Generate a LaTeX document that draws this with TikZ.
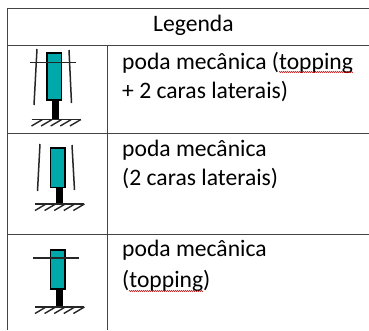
\documentclass[tikz,border=0pt]{standalone}
\usepackage{fontspec}
\setmainfont{Carlito}
\usetikzlibrary{decorations.pathmorphing}
\definecolor{tealfill}{HTML}{00A9A9}
\definecolor{gridline}{HTML}{444444}
\tikzset{
  gridrule/.style={draw=gridline,line width=1pt},
  label/.style={anchor=base west,inner sep=0pt,font=\fontsize{23.6}{28}\selectfont,text=black},
  crown/.style={draw=black,line width=1.5pt,fill=tealfill},
  trunk/.style={fill=black,draw=none},
  cutline/.style={draw=black!85,line width=1.5pt},
  soil/.style={draw=black!85,line width=1.4pt},
  squiggle/.style={draw=red!75!black,line width=0.5pt,decorate,decoration={zigzag,segment length=2pt,amplitude=0.6pt}},
}
\newcommand{\treeicon}[4]{% x (crown left), crown top, crown bottom, ground y
  \fill[trunk] (#1+5.2,#3) rectangle (#1+12,#4);
  \draw[crown] (#1,#2) rectangle (#1+14.5,#3);
  \draw[soil] (#1-15.5,#4) -- (#1+33,#4);
  \foreach \k in {0,1,2,3,4}
    \draw[soil] (#1-4.5+\k*9.6,#4) -- (#1-15.5+\k*9.6,#4+6.5);
}
\begin{document}
\begin{tikzpicture}[x=1pt,y=-1pt]
\useasboundingbox (0,0) rectangle (369,330);
\fill[white] (0,0) rectangle (369,330);
% table grid
\draw[gridrule] (7,8.5) -- (369,8.5);
\draw[gridrule] (7,45) -- (369,45);
\draw[gridrule] (7,133) -- (369,133);
\draw[gridrule] (7,234) -- (369,234);
\draw[gridrule] (7,8.5) -- (7,330);
\draw[gridrule] (107.5,45) -- (107.5,330);
% icon 1
\treeicon{47}{53}{100}{119.5}
\draw[cutline] (30,62.5) -- (76,62.5);
\draw[cutline] (37,49) -- (34,105);
\draw[cutline] (69,50) -- (71.5,103);
% icon 2
\treeicon{50.5}{148}{187.5}{204}
\draw[cutline] (40,144) -- (37.5,191);
\draw[cutline] (72,145) -- (74.5,190);
% icon 3
\treeicon{50.5}{250}{289}{307}
\draw[cutline] (33,258) -- (79,258);
% text
\node[label] (title) at (153,31) {Legenda};
\node[label] (a1) at (122,69) {poda mecânica (topping};
\node[label] (a2) at (122,98) {+ 2 caras laterais)};
\node[label] (b1) at (122,156) {poda mecânica};
\node[label] (b2) at (122,185) {(2 caras laterais)};
\node[label] (c1) at (122,256) {poda mecânica};
\node[label] (c2) at (122,287) {(topping)};
% spell-check marks
\draw[squiggle] (279,72) -- (353,72);
\draw[squiggle] (129,291) -- (203,291);
\end{tikzpicture}
\end{document}
